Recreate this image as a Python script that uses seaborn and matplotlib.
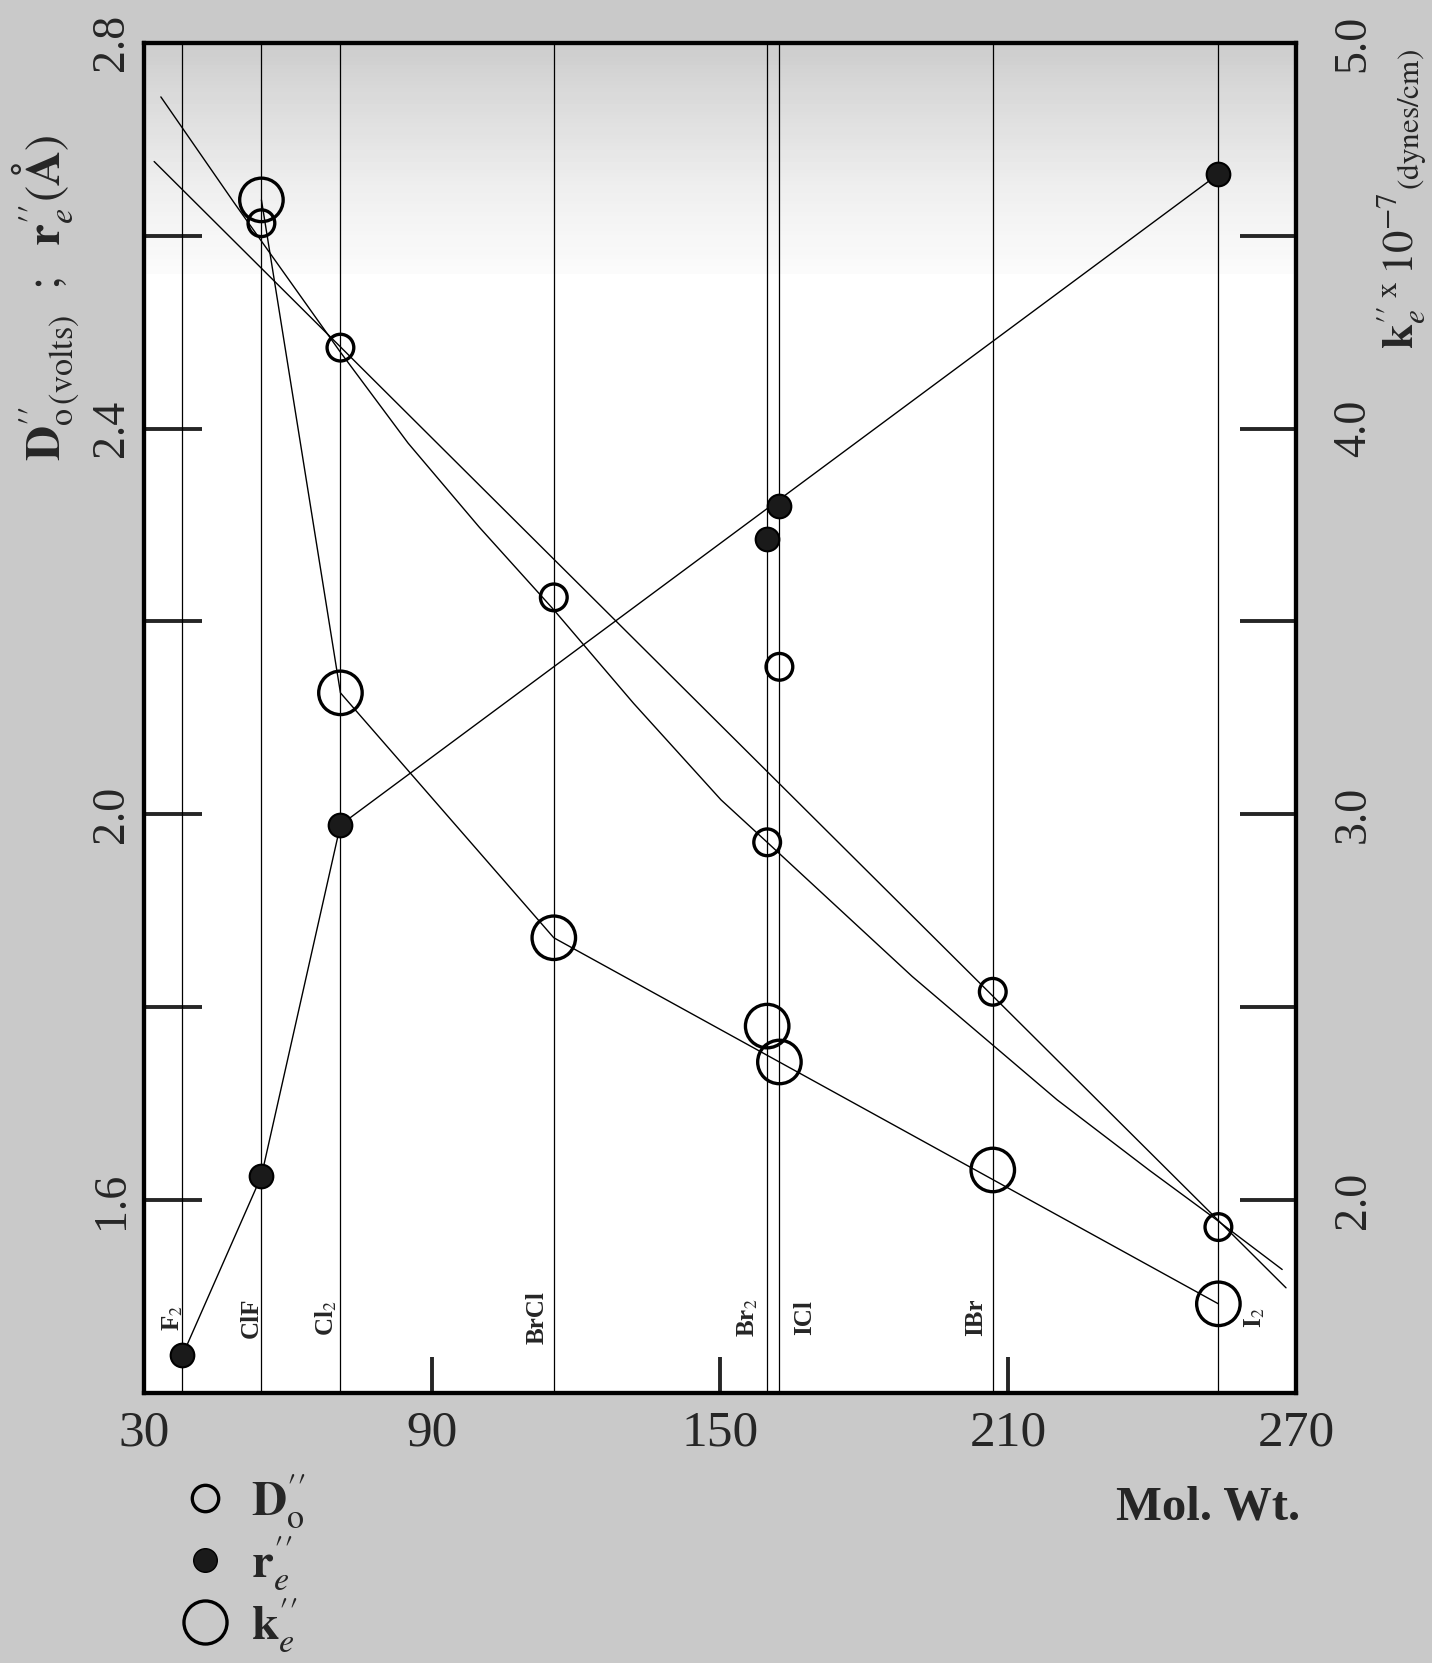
import numpy as np
import seaborn as sns
import matplotlib.pyplot as plt
from matplotlib.lines import Line2D

# halogen molecules and their molecular weights
molecules = ['F$_2$', 'ClF', 'Cl$_2$', 'BrCl', 'Br$_2$', 'ICl', 'IBr', 'I$_2$']
mol_wt = [38.00, 54.45, 70.91, 115.36, 159.81, 162.36, 206.81, 253.81]

# D''o (volts) - small open circles, left axis
d0 = [np.nan, 2.613, 2.484, 2.225, 1.971, 2.153, 1.816, 1.572]
# r''e (Angstrom) - filled circles, left axis
r_e = [1.439, 1.625, 1.989, np.nan, 2.286, 2.320, np.nan, 2.664]
# k''e x 10^-7 (dynes/cm) - large open circles, right axis
k_e = [np.nan, 4.593, 3.315, 2.680, 2.451, 2.358, 2.078, 1.731]

# molecules joined by the drawn r''e and k''e lines
r_e_path = ['F$_2$', 'ClF', 'Cl$_2$', 'I$_2$']
k_e_path = ['ClF', 'Cl$_2$', 'BrCl', 'I$_2$']

# D''o straight line (ends)
d0_line_x = [32.1, 267.9]
d0_line_y = [2.677, 1.509]
# D''o curve
d0_curve_x = [33.5, 48.8, 70.8, 85.0, 99.8, 115.2, 132.0, 150.2, 159.6, 190.0, 220.2, 239.4, 252.5, 267.1]
d0_curve_y = [2.744, 2.634, 2.480, 2.385, 2.298, 2.213, 2.115, 2.015, 1.972, 1.832, 1.704, 1.631, 1.583, 1.528]

x_ticks = [30, 90, 150, 210, 270]
left_ticks = [1.6, 2.0, 2.4, 2.8]
left_minor = [1.8, 2.2, 2.6]
right_ticks = [2.0, 3.0, 4.0, 5.0]
right_minor = [2.5, 3.5, 4.5]

sns.set_theme(style='ticks')
plt.rcParams['font.family'] = ['Liberation Serif', 'DejaVu Serif']
plt.rcParams['mathtext.fontset'] = 'stix'

fig = plt.figure(figsize=(14.32, 16.63), dpi=100, facecolor='#c9c9c9')
ax = fig.add_axes([0.1006, 0.1624, 0.8045, 0.8118])
ax.set_facecolor('white')
ax2 = ax.twinx()

# grey smudge along the top of the sheet
grad = np.linspace(0, 1, 60).reshape(-1, 1)
ax.imshow(grad, extent=[30, 270, 2.56, 2.8], origin='lower', cmap='Greys',
          vmin=-0.1, vmax=3.5, aspect='auto', zorder=0)

for m in mol_wt:
    ax.axvline(m, color='black', lw=0.9, zorder=1)

lk = dict(color='black', lw=1.0, sort=False, estimator=None, zorder=2)
sns.lineplot(x=d0_line_x, y=d0_line_y, ax=ax, **lk)
sns.lineplot(x=d0_curve_x, y=d0_curve_y, ax=ax, **lk)
idx = [molecules.index(m) for m in r_e_path]
sns.lineplot(x=[mol_wt[i] for i in idx], y=[r_e[i] for i in idx], ax=ax, **lk)
idx = [molecules.index(m) for m in k_e_path]
sns.lineplot(x=[mol_wt[i] for i in idx], y=[k_e[i] for i in idx], ax=ax2, **lk)

sns.scatterplot(x=mol_wt, y=d0, ax=ax, s=370, facecolor='none', edgecolor='black',
                linewidth=2.4, zorder=3)
sns.scatterplot(x=mol_wt, y=r_e, ax=ax, s=290, color='#1a1a1a', edgecolor='black',
                linewidth=1.5, zorder=3)
sns.scatterplot(x=mol_wt, y=k_e, ax=ax2, s=980, facecolor='none', edgecolor='black',
                linewidth=2.4, zorder=3)

# molecule names beside the vertical lines
label_dx = [-7, -7, -10, -12, -14, 18, -12, 26]
for name, m, dx in zip(molecules, mol_wt, label_dx):
    ax.annotate(name, xy=(m, 1.478), xytext=(dx, 0), textcoords='offset points',
                rotation=90, ha='center', va='center', fontsize=18, fontweight='bold')

ax.set_xlim(30, 270)
ax.set_ylim(1.4, 2.8)
ax2.set_ylim(1.5, 5.0)

ax.set_xticks(x_ticks)
ax.set_xticklabels([str(t) for t in x_ticks], fontsize=37)
ax.tick_params(axis='x', direction='in', length=26, width=2.8, pad=12, top=False)

ax.set_yticks(left_ticks)
ax.set_yticks(left_minor, minor=True)
ax.set_yticklabels(['%.1f' % t for t in left_ticks], fontsize=33, rotation=90, va='center')
ax.tick_params(axis='y', which='both', direction='in', length=42, width=2.8, pad=8,
               left=True, right=False)

ax2.set_yticks(right_ticks)
ax2.set_yticks(right_minor, minor=True)
ax2.set_yticklabels(['%.1f' % t for t in right_ticks], fontsize=33, rotation=90, va='center')
ax2.tick_params(axis='y', which='both', direction='in', length=40, width=2.8, pad=26)

for a in (ax, ax2):
    for s in a.spines.values():
        s.set_linewidth(3.0)
        s.set_color('black')

ax.set_ylabel('')
ax2.set_ylabel('')

fig.text(46 / 1432, 1 - 298 / 1663,
         r'$\mathbf{D}^{\prime\prime}_{\mathrm{o}\,\mathrm{(volts)}}\ \ ;\ \ \mathbf{r}^{\prime\prime}_{e}(\mathbf{\AA})$',
         rotation=90, ha='center', va='center', fontsize=35)
fig.text(1402 / 1432, 1 - 199 / 1663,
         r'$\mathbf{k}^{\prime\prime}_{e}\,{}^{\mathrm{x}}\,10^{-7}{}_{\mathrm{(dynes/cm)}}$',
         rotation=90, ha='center', va='center', fontsize=32)
fig.text(1208 / 1432, 1 - 1508 / 1663, 'Mol. Wt.', fontsize=35, fontweight='bold',
         ha='center', va='center')

handles = [
    Line2D([], [], ls='none', marker='o', ms=19, mfc='none', mec='black', mew=2.4),
    Line2D([], [], ls='none', marker='o', ms=17, mfc='#1a1a1a', mec='black'),
    Line2D([], [], ls='none', marker='o', ms=31, mfc='none', mec='black', mew=2.4),
]
labels = [r'$\mathbf{D}^{\prime\prime}_{\mathrm{o}}$', r'$\mathbf{r}^{\prime\prime}_{e}$',
          r'$\mathbf{k}^{\prime\prime}_{e}$']
fig.legend(handles, labels, loc='upper left', bbox_to_anchor=(0.094, 0.141),
           frameon=False, fontsize=35, handlelength=1.1, handletextpad=0.4,
           labelspacing=0.08)

fig.savefig('out.png', dpi=100, facecolor=fig.get_facecolor())
